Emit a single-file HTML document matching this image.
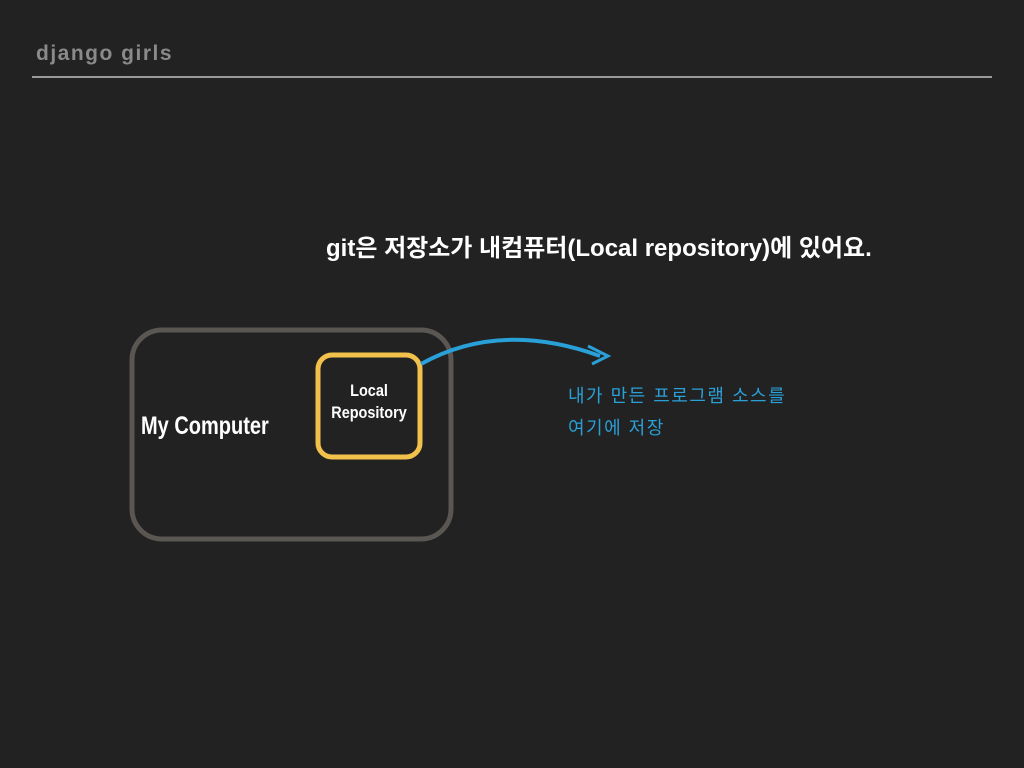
<!DOCTYPE html>
<html><head><meta charset="utf-8"><style>
html,body{margin:0;padding:0;background:#222222;}
body{width:1024px;height:768px;position:relative;overflow:hidden;font-family:"Liberation Sans","Noto Sans CJK KR",sans-serif;}
.t{position:absolute;white-space:nowrap;}
</style></head><body>
<div class="t" style="left:36px;top:42px;font-size:21px;color:#8a8a8a;letter-spacing:1.5px;font-weight:bold;">django girls</div>
<div style="position:absolute;left:32px;top:76px;width:960px;height:2px;background:#9a9a9a;"></div>
<div class="t" style="left:326px;top:228px;font-size:24px;color:#fff;font-weight:bold;letter-spacing:0;">git은 저장소가 내컴퓨터(Local repository)에 있어요.</div>
<svg width="1024" height="768" style="position:absolute;left:0;top:0">
<rect x="132" y="330" width="319" height="209" rx="30" fill="none" stroke="#5a5652" stroke-width="5"/>
<rect x="318" y="355" width="102" height="102" rx="14" fill="none" stroke="#f2c14c" stroke-width="5"/>
<path d="M421 364 Q500 320 600 356" fill="none" stroke="#2aa0d8" stroke-width="4"/>
<path d="M588 346 L608 356 L592 364" fill="none" stroke="#2aa0d8" stroke-width="3"/>
</svg>
<div class="t" style="left:141px;top:412px;font-size:25px;color:#fff;font-weight:bold;transform:scaleX(0.8);transform-origin:left;">My Computer</div>
<div class="t" style="left:318px;top:380px;width:102px;text-align:center;font-size:17px;line-height:22px;color:#fff;font-weight:bold;transform:scaleX(0.85);">Local<br>Repository</div>
<div class="t" style="left:568px;top:380px;font-size:18px;letter-spacing:1.5px;color:#2aa0d8;line-height:32px;">내가 만든 프로그램 소스를<br>여기에 저장</div>
</body></html>
